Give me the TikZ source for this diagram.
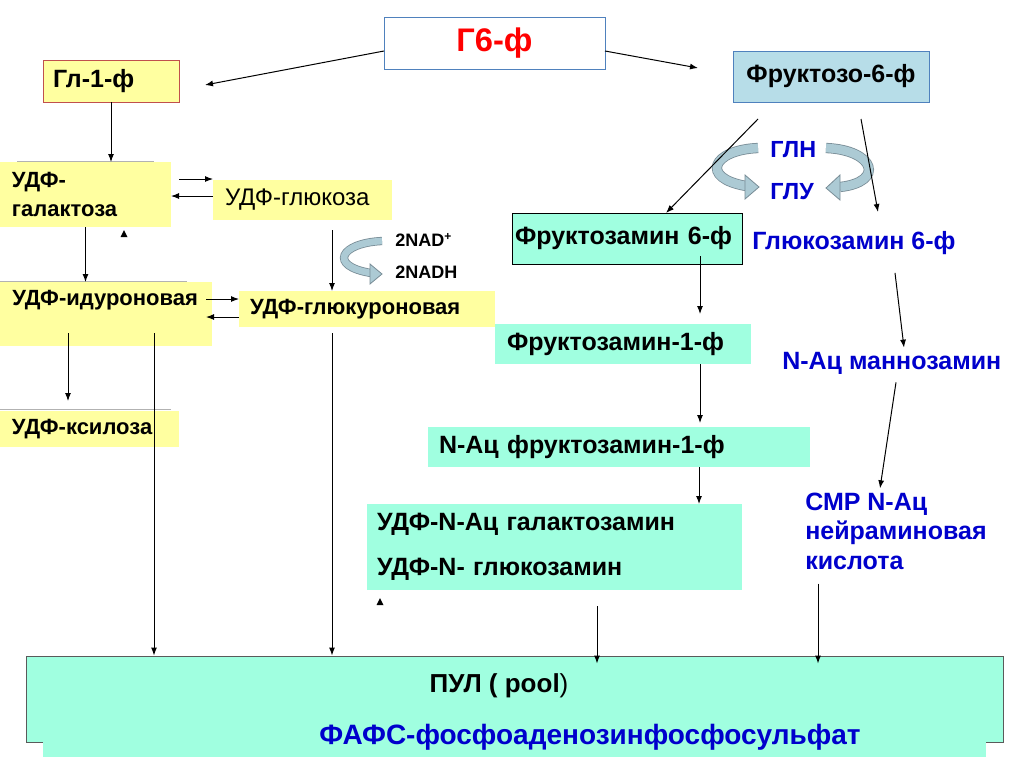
\documentclass[tikz,border=0pt]{standalone}
\usepackage{fontspec}
\setmainfont{Liberation Sans}
\usetikzlibrary{arrows.meta,calc}
\definecolor{yel}{RGB}{255,255,160}
\definecolor{aqua}{RGB}{160,255,224}
\definecolor{ltblue}{RGB}{183,221,232}
\definecolor{bord}{RGB}{79,129,189}
\definecolor{redb}{RGB}{192,80,77}
\definecolor{dblue}{RGB}{0,0,204}
\definecolor{band}{RGB}{172,202,212}
\definecolor{bandedge}{RGB}{120,140,150}
\definecolor{pooledge}{RGB}{90,90,90}
\newcommand\fsz[2]{\fontsize{#1}{#2}\selectfont}
\begin{document}
\begin{tikzpicture}[x=0.75pt,y=-0.75pt,
  arr/.style={draw=black,line width=0.75pt,-{Latex[length=6pt,width=4.5pt]}},
  ln/.style={draw=black,line width=0.75pt},
  box/.style={inner ysep=0pt,outer sep=0pt,align=left},
  lfont/.style={font=\fsz{16.5}{20}\bfseries},
  rfont/.style={font=\fsz{18.75}{22}\bfseries},
  btext/.style={inner sep=0pt,anchor=west,align=left,text=dblue,font=\fsz{18.75}{22}\bfseries},
  bandpath/.style={draw=bandedge,line width=0.6pt,double=band,double distance=6.5pt},
  bandhead/.style={fill=band,draw=bandedge,line width=0.6pt},
  topline/.style={draw=gray!60,line width=0.5pt}]
\useasboundingbox (0,0) rectangle (1024,768);
\fill[white] (0,0) rectangle (1024,768);

% curved block arrows
\draw[bandpath] (758,148) .. controls (712,150) and (700,178) .. (746,186);
\filldraw[bandhead] (745,175) -- (759,187) -- (745,199) -- cycle;
\draw[bandpath] (826,148) .. controls (875,150) and (885,182) .. (840,187);
\filldraw[bandhead] (840,175) -- (826,188) -- (840,200) -- cycle;
\draw[bandpath,double distance=5pt] (382,241) .. controls (340,243) and (328,266) .. (371,273);
\filldraw[bandhead] (370,264) -- (382,274) -- (370,284) -- cycle;

% boxes
\node[box,draw=bord,fill=white,line width=0.75pt,minimum width=165.75pt,minimum height=39pt,
  text=red,font=\fsz{24.5}{28}\bfseries,align=center] (g6) at (494.5,43) {Г6-ф};
\node[box,draw=redb,fill=yel,line width=0.75pt,minimum height=31.5pt,text width=87pt,inner xsep=7.5pt,
  rfont] (gl1) at (111,81) {Гл-1-ф};
\node[box,draw=bord,fill=ltblue,line width=0.75pt,minimum width=147pt,minimum height=38.25pt,
  rfont,align=center] (fr6) at (831,76.5) {Фруктозо-6-ф};
\node[box,fill=yel,minimum height=48.75pt,text width=110.25pt,inner xsep=9pt,
  font=\fsz{16.5}{21.75}\bfseries] (gal) at (85.5,194.5) {УДФ-\\галактоза};
\node[box,fill=yel,minimum height=30pt,text width=116.25pt,inner xsep=9pt,
  font=\fsz{18}{22}] (glc) at (302.5,200) {УДФ-глюкоза};
\node[box,fill=yel,minimum width=159pt,minimum height=48pt,inner xsep=0pt] (idur) at (106,314) {};
\node[inner sep=0pt,anchor=west,lfont] (idurt) at (12,300) {УДФ-идуроновая};
\node[box,fill=yel,minimum height=27pt,text width=175.5pt,inner xsep=8.25pt,lfont] (glcur) at (367,309) {УДФ-глюкуроновая};
\node[box,fill=yel,minimum height=27pt,text width=116.25pt,inner xsep=9pt,lfont] (xyl) at (89.5,429) {УДФ-ксилоза};
\draw[topline] (17,161) -- (154,161);
\draw[topline] (0,281) -- (187,281);
\draw[topline] (0,409) -- (171,409);

\node[box,draw=black,fill=aqua,line width=0.75pt,minimum height=38.25pt,text width=168pt,inner xsep=2.25pt,
  rfont] (fa6) at (627,238.5) {Фруктозамин 6-ф};
\node[box,fill=aqua,minimum height=30pt,text width=174pt,inner xsep=9pt,rfont] (fa1) at (623,344) {Фруктозамин-1-ф};
\node[box,fill=aqua,minimum height=30pt,text width=270pt,inner xsep=8.25pt,rfont] (nfa1) at (619,447) {N-Ац фруктозамин-1-ф};
\node[box,fill=aqua,minimum height=64.5pt,text width=266.25pt,inner xsep=7.5pt,
  font=\fsz{18.75}{33.75}\bfseries] (udfn) at (554.5,547) {УДФ-N-Ац галактозамин\\УДФ-N- глюкозамин};

% blue texts
\node[btext,font=\fsz{17.5}{20}\bfseries] (gln) at (770,150) {ГЛН};
\node[btext,font=\fsz{17.5}{20}\bfseries] (glu) at (770,192) {ГЛУ};
\node[btext] (glcz) at (752,243) {Глюкозамин 6-ф};
\node[btext] (mannoz) at (782,363) {N-Ац маннозамин};
\node[btext,font=\fsz{18.75}{22.2}\bfseries] (cmp) at (805,531) {СМР N-Ац\\нейраминовая\\кислота};
\node[inner sep=0pt,anchor=west,font=\fsz{13.5}{16}\bfseries] (nad) at (395,240) {2NAD{\fsz{9}{10}\raisebox{4.5pt}{+}}};
\node[inner sep=0pt,anchor=west,font=\fsz{13.5}{16}\bfseries] (nadh) at (395,272) {2NADH};

% pool
\node[draw=pooledge,fill=aqua,line width=0.75pt,minimum width=732.75pt,minimum height=64.5pt,inner sep=0pt]
  (pool) at (514.5,699) {};
\fill[aqua] (43,700) rectangle (986,757);
\node[inner sep=0pt,font=\fsz{19.5}{23}\bfseries] (poolt) at (499,686) {ПУЛ ( pool{\mdseries)}};
\node[inner sep=0pt,text=dblue,font=\fsz{21}{25}\bfseries] (fafs) at (590,737) {ФАФС-фосфоаденозинфосфосульфат};

% stray arrowheads
\fill (120.5,237) -- (127.5,237) -- (124,230) -- cycle;
\fill (376.5,605) -- (383.5,605) -- (380,598) -- cycle;

% connectors
\coordinate (g6l) at (205,85);
\coordinate (g6r) at (698,68);
\draw[arr] ($(g6.west)+(0,8)$) -- (g6l);
\draw[arr] ($(g6.east)+(0,8)$) -- (g6r);
\draw[arr] (gl1.south) -- (gl1.south |- gal.north);
\draw[arr] ($(gal.east |- 0,179)+(8,0)$) -- (glc.west |- 0,179);
\draw[arr] (glc.west |- 0,196) -- (gal.east |- 0,196);
\draw[arr] (gal.south) -- (gal.south |- idur.north);
\draw[arr] ($(332,0 |- glc.south)+(0,10)$) -- (332,0 |- glcur.north);
\draw[arr] ($(idur.east |- 0,299)+(-6,0)$) -- (glcur.west |- 0,299);
\draw[arr] (glcur.west |- 0,317) -- ($(idur.east |- 0,317)+(-6,0)$);
\draw[arr] ($(68,0 |- idur.south)+(0,-13)$) -- ($(68,0 |- xyl.north)+(0,-10)$);
\draw[arr] ($(154,0 |- idur.south)+(0,-13)$) -- (154,0 |- pool.north);
\draw[arr] ($(332,0 |- glcur.south)+(0,6)$) -- (332,0 |- pool.north);
\draw[arr] ($(fr6.south west)+(25,17)$) -- (666,0 |- fa6.north);
\coordinate (glczt) at (878,212);
\draw[arr] ($(fr6.south west)+(128,17)$) -- (glczt);
\draw[arr] ($(700,0 |- fa6.south)+(0,-8)$) -- ($(700,0 |- fa1.north)+(0,-10)$);
\draw[arr] (700,0 |- fa1.south) -- ($(700,0 |- nfa1.north)+(0,-4)$);
\draw[arr] (699,0 |- nfa1.south) -- (699,0 |- udfn.north);
\draw[arr] ($(597,0 |- udfn.south)+(0,16)$) -- ($(597,0 |- pool.north)+(0,8)$);
\draw[arr] ($(glcz.south west)+(143,18)$) -- ($(mannoz.north west)+(122,-4)$);
\draw[arr] ($(mannoz.south west)+(114,8)$) -- ($(cmp.north west)+(75,-4)$);
\draw[arr] ($(cmp.south west)+(13,14)$) -- ($(818,0 |- pool.north)+(0,8)$);
\end{tikzpicture}
\end{document}
